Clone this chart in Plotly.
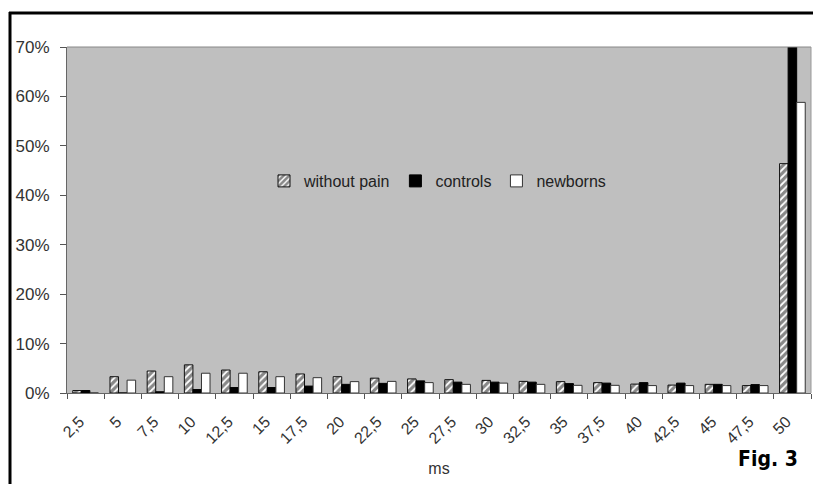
import plotly.graph_objects as go

categories = ["2,5", "5", "7,5", "10", "12,5", "15", "17,5", "20", "22,5", "25",
              "27,5", "30", "32,5", "35", "37,5", "40", "42,5", "45", "47,5", "50"]
without_pain = [0.5, 3.3, 4.45, 5.7, 4.65, 4.3, 3.85, 3.3, 3.0, 2.85,
                2.7, 2.55, 2.35, 2.3, 2.1, 1.8, 1.6, 1.75, 1.5, 46.4]
controls = [0.5, 0.0, 0.25, 0.7, 1.1, 1.1, 1.4, 1.75, 1.95, 2.45,
            2.2, 2.2, 2.2, 1.9, 2.0, 2.1, 2.0, 1.75, 1.7, 70.0]
newborns = [0.0, 2.6, 3.3, 4.0, 4.0, 3.3, 3.1, 2.3, 2.35, 2.1,
            1.75, 2.0, 1.75, 1.55, 1.55, 1.5, 1.5, 1.5, 1.5, 58.8]
y_ticks = [0, 10, 20, 30, 40, 50, 60, 70]
y_tick_labels = ["0%", "10%", "20%", "30%", "40%", "50%", "60%", "70%"]

W, H = 813, 484
ML, MR, MT, MB = 67, 2, 47, 91
pw, ph = W - ML - MR, H - MT - MB

def px_x(px):
    return (px - ML) / pw

def px_y(py):
    return (H - MB - py) / ph

font = "Liberation Sans, Arial, sans-serif"

fig = go.Figure()
fig.add_trace(go.Bar(
    x=categories, y=without_pain, name="without pain",
    marker=dict(color="white", line=dict(color="#111", width=1),
                pattern=dict(shape="/", fgcolor="#111", bgcolor="white", size=5, solidity=0.65)),
))
fig.add_trace(go.Bar(
    x=categories, y=controls, name="controls",
    marker=dict(color="#000", line=dict(color="#000", width=1)),
))
fig.add_trace(go.Bar(
    x=categories, y=newborns, name="newborns",
    marker=dict(color="white", line=dict(color="#333", width=1)),
))

fig.update_layout(
    width=W, height=H,
    margin=dict(l=ML, r=MR, t=MT, b=MB),
    paper_bgcolor="white",
    plot_bgcolor="#bfbfbf",
    barmode="group",
    bargap=0.31,
    bargroupgap=0,
    font=dict(family=font, size=16, color="#333"),
    showlegend=True,
    legend=dict(orientation="h", x=px_x(264), y=px_y(181), xanchor="left", yanchor="middle",
                bgcolor="rgba(0,0,0,0)", font=dict(size=16, color="#222"),
                itemwidth=30, tracegroupgap=0),
    xaxis=dict(
        type="category", tickangle=-45, tickson="boundaries",
        ticks="outside", ticklen=5, tickcolor="#555",
        showline=True, linecolor="#666", linewidth=1,
        showgrid=False, tickfont=dict(size=16, color="#333"),
        ticklabelstandoff=12, ticklabelshift=-6,
        title=dict(text="ms", font=dict(size=16, color="#333"), standoff=16),
    ),
    yaxis=dict(
        range=[0, 70], tickmode="array", tickvals=y_ticks, ticktext=y_tick_labels,
        ticks="outside", ticklen=6, tickcolor="#555",
        showline=True, linecolor="#666", linewidth=1,
        showgrid=False, zeroline=False, tickfont=dict(size=17, color="#333"),
        ticklabelstandoff=7,
    ),
    shapes=[
        dict(type="line", xref="paper", yref="paper", x0=px_x(9), x1=px_x(W + 5),
             y0=px_y(13), y1=px_y(13), line=dict(color="black", width=3)),
        dict(type="line", xref="paper", yref="paper", x0=px_x(10), x1=px_x(10),
             y0=px_y(12), y1=px_y(H + 5), line=dict(color="black", width=3)),
        dict(type="line", xref="paper", yref="paper", x0=0, x1=1,
             y0=1, y1=1, line=dict(color="#888", width=1)),
        dict(type="line", xref="paper", yref="paper", x0=1, x1=1,
             y0=0, y1=1, line=dict(color="#999", width=1)),
    ],
    annotations=[
        dict(text="<b>Fig. 3</b>", xref="paper", yref="paper", x=px_x(800), y=px_y(459),
             xanchor="right", yanchor="middle", showarrow=False,
             font=dict(family="DejaVu Sans Condensed, Liberation Sans Narrow, sans-serif", size=21, color="black")),
    ],
)

fig.write_html("out.html", config={"displayModeBar": False},
               post_script="document.body.style.margin='0';document.body.style.overflow='hidden';")
